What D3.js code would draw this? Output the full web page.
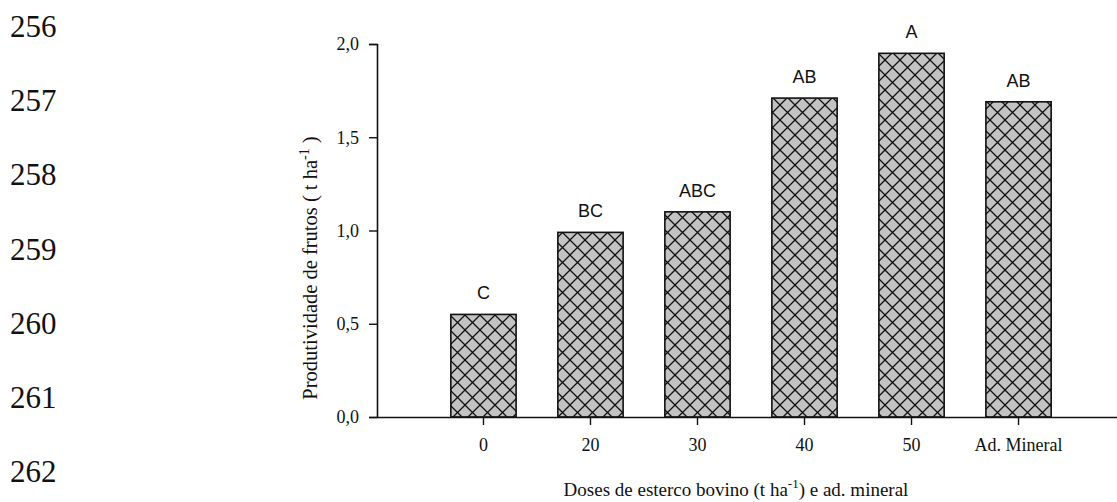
<!DOCTYPE html>
<html>
<head>
<meta charset="utf-8">
<script src="https://cdn.jsdelivr.net/npm/d3@7"></script>
<style>
  html, body { margin: 0; padding: 0; background: #fff; }
  svg { display: block; }
</style>
</head>
<body>
<svg id="chart" width="1117" height="502"></svg>
<script>
// Fruit yield by dose of cattle manure and mineral fertilization
const categories = ["0", "20", "30", "40", "50", "Ad. Mineral"];
const yieldValues = [0.55, 0.99, 1.10, 1.71, 1.95, 1.69];
const groupLetters = ["C", "BC", "ABC", "AB", "A", "AB"];
const yTicks = [0, 0.5, 1.0, 1.5, 2.0];
const lineNumbers = ["256", "257", "258", "259", "260", "261", "262"];

const svg = d3.select("#chart");
const serif = "'Liberation Serif', 'Times New Roman', serif";
const sans = "'Liberation Sans', Arial, sans-serif";

// Manuscript line numbers along the left margin
svg.append("g").selectAll("text")
  .data(lineNumbers)
  .join("text")
  .attr("x", 10)
  .attr("y", (d, i) => 37 + i * 74.2)
  .attr("font-family", serif)
  .attr("font-size", 31)
  .attr("fill", "#111")
  .text(d => d);

const x = d3.scaleBand()
  .domain(categories)
  .range([377, 1125])
  .paddingInner(0.39)
  .paddingOuter(0.69);

const y = d3.scaleLinear()
  .domain([0, 2])
  .range([417, 44]);

// Cross-hatch fill for the bars
const defs = svg.append("defs");
const pat = defs.append("pattern")
  .attr("id", "hatch")
  .attr("patternUnits", "userSpaceOnUse")
  .attr("width", 15)
  .attr("height", 15);
pat.append("rect").attr("width", 15).attr("height", 15).attr("fill", "#c3c3c3");
pat.append("path")
  .attr("d", "M0,0L15,15M15,0L0,15M-1,14L1,16M14,-1L16,1")
  .attr("stroke", "#111")
  .attr("stroke-width", 1.3);

// Bars
svg.append("g").selectAll("rect")
  .data(yieldValues)
  .join("rect")
  .attr("x", (d, i) => x(categories[i]))
  .attr("y", d => y(d))
  .attr("width", x.bandwidth())
  .attr("height", d => y(0) - y(d))
  .attr("fill", "url(#hatch)")
  .attr("stroke", "#111")
  .attr("stroke-width", 1.6);

// Significance letters above bars
svg.append("g").selectAll("text")
  .data(yieldValues)
  .join("text")
  .attr("x", (d, i) => x(categories[i]) + x.bandwidth() / 2)
  .attr("y", d => y(d) - 15)
  .attr("text-anchor", "middle")
  .attr("font-family", sans)
  .attr("font-size", 18)
  .attr("fill", "#111")
  .text((d, i) => groupLetters[i]);

// Y axis
const yAxis = svg.append("g")
  .attr("transform", "translate(377,0)")
  .call(d3.axisLeft(y).tickValues(yTicks).tickSize(8).tickPadding(10)
    .tickFormat(d => d3.format(".1f")(d).replace(".", ",")));
yAxis.select(".domain").attr("stroke", "#111").attr("stroke-width", 1.6);
yAxis.selectAll(".tick line").attr("stroke", "#111").attr("stroke-width", 1.4);
yAxis.selectAll(".tick text")
  .attr("font-family", serif).attr("font-size", 18).attr("fill", "#111");

// X axis
const xAxis = svg.append("g")
  .attr("transform", "translate(0,417)")
  .call(d3.axisBottom(x).tickSize(8).tickSizeOuter(0).tickPadding(13));
xAxis.select(".domain").attr("stroke", "#111").attr("stroke-width", 1.6);
xAxis.selectAll(".tick line").attr("stroke", "#111").attr("stroke-width", 1.4);
xAxis.selectAll(".tick text")
  .attr("font-family", serif).attr("font-size", 18).attr("fill", "#111");

// Axis titles
const xTitle = svg.append("text")
  .attr("x", 736)
  .attr("y", 496)
  .attr("text-anchor", "middle")
  .attr("font-family", serif)
  .attr("font-size", 19)
  .attr("fill", "#111");
xTitle.append("tspan").text("Doses de esterco bovino (t ha");
xTitle.append("tspan").attr("dy", -8).attr("font-size", 13).text("-1");
xTitle.append("tspan").attr("dy", 8).text(") e ad. mineral");

const yTitle = svg.append("text")
  .attr("transform", "translate(317,268) rotate(-90)")
  .attr("text-anchor", "middle")
  .attr("font-family", serif)
  .attr("font-size", 20.5)
  .attr("fill", "#111");
yTitle.append("tspan").text("Produtividade de frutos ( t ha");
yTitle.append("tspan").attr("dy", -8).attr("font-size", 14).text("-1");
yTitle.append("tspan").attr("dy", 8).text(" )");
</script>
</body>
</html>
